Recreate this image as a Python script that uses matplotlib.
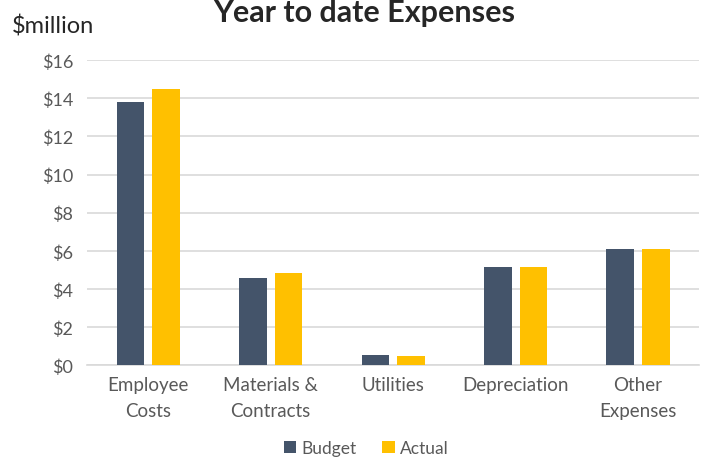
import numpy as np
import matplotlib.pyplot as plt

categories = ["Employee\nCosts", "Materials &\nContracts", "Utilities", "Depreciation", "Other\nExpenses"]
budget = [13.8, 4.56, 0.53, 5.15, 6.12]
actual = [14.47, 4.86, 0.48, 5.15, 6.08]
yticks = [0, 2, 4, 6, 8, 10, 12, 14, 16]

plt.rcParams["font.family"] = ["Lato", "DejaVu Sans"]
text_color = "#595959"

fig = plt.figure(figsize=(7.07, 4.60), dpi=100)
ax = fig.add_axes([0.123, 0.204, 0.866, 0.663])

x = np.arange(len(categories))
w = 0.225
ax.bar(x - 0.145, budget, w, color="#44546A", label="Budget", zorder=3)
ax.bar(x + 0.145, actual, w, color="#FFC000", label="Actual", zorder=3)

ax.set_xlim(-0.5, len(categories) - 0.5)
ax.set_ylim(0, 16)
ax.set_yticks(yticks)
ax.set_yticklabels([f"${v}" for v in yticks], fontsize=13, color=text_color)
ax.set_xticks(x)
ax.set_xticklabels(categories, fontsize=13.5, color=text_color, linespacing=1.65)
ax.tick_params(length=0, pad=10)
ax.tick_params(axis="x", pad=8)
ax.grid(axis="y", color="#D9D9D9", linewidth=1.2, zorder=0)
for s in ["top", "right", "left"]:
    ax.spines[s].set_visible(False)
ax.spines["bottom"].set_color("#D9D9D9")
ax.spines["bottom"].set_linewidth(1.2)

fig.text(0.515, 1 - 22 / 460, "Year to date Expenses", ha="center", va="baseline",
         fontsize=22, fontweight="bold", color="#262626")
fig.text(0.017, 1 - 33 / 460, "$million", ha="left", va="baseline", fontsize=17, color="#262626")

fig.legend(loc="center", bbox_to_anchor=(0.518, 1 - 449 / 460), ncol=2, frameon=False,
           fontsize=12.5, handlelength=0.7, handleheight=0.7, columnspacing=1.5,
           handletextpad=0.3, labelcolor=text_color)

plt.savefig("out.png", dpi=100)
